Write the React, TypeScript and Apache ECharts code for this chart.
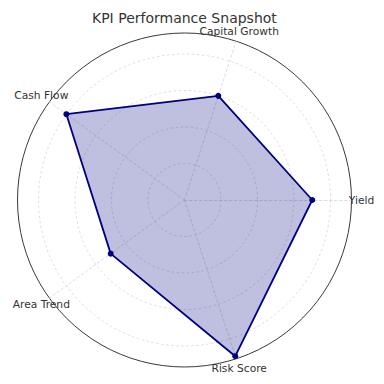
import React, { useEffect, useRef } from "react";
import * as echarts from "echarts";

const indicators = ["Yield", "Capital Growth", "Cash Flow", "Area Trend", "Risk Score"];
const kpiValues = [70, 60, 80, 50, 90];
const axisMax = 91.5; // outer circle value
const ringMax = 80; // last dashed ring value
const ringCount = 4;

const CX = 184.5;
const CY = 200;
const R_OUTER = 167;
const R_RING = (R_OUTER * ringMax) / axisMax;

export default function App() {
  const ref = useRef<HTMLDivElement>(null);
  useEffect(() => {
    if (!ref.current) return;
    const chart = echarts.init(ref.current, null, { renderer: "svg" });
    const gridStyle = { color: "#d4d4d4", type: [2.5, 2.5], width: 0.8 };
    chart.setOption({
      animation: false,
      backgroundColor: "#ffffff",
      title: {
        text: "KPI Performance Snapshot",
        left: 87,
        top: 6,
        textStyle: {
          fontFamily: "DejaVu Sans",
          fontSize: 14,
          fontWeight: "normal",
          color: "#333333",
        },
      },
      radar: [
        {
          center: [CX, CY],
          radius: R_OUTER,
          startAngle: 0,
          shape: "circle",
          splitNumber: 1,
          indicator: indicators.map((n) => ({ name: n, min: 0, max: axisMax })),
          axisName: {
            color: "#333333",
            fontFamily: "DejaVu Sans",
            fontSize: 10.7,
            align: "center",
            verticalAlign: "middle",
          },
          nameGap: 10,
          axisLine: { lineStyle: gridStyle },
          splitLine: { lineStyle: { color: "#222222", width: 0.9 } },
          splitArea: { show: false },
        },
        {
          center: [CX, CY],
          radius: R_RING,
          startAngle: 0,
          shape: "circle",
          splitNumber: ringCount,
          indicator: indicators.map(() => ({ name: "", min: 0, max: ringMax })),
          axisName: { show: false },
          axisLine: { show: false },
          splitLine: { lineStyle: gridStyle },
          splitArea: { show: false },
        },
      ],
      series: [
        {
          type: "radar",
          radarIndex: 0,
          z: 5,
          symbol: "circle",
          symbolSize: 6,
          data: [{ value: kpiValues, name: "KPI" }],
          lineStyle: { color: "#000080", width: 1.8 },
          itemStyle: { color: "#000080" },
          areaStyle: { color: "#000080", opacity: 0.25 },
        },
      ],
    });
    return () => chart.dispose();
  }, []);
  return (
    <div
      ref={ref}
      style={{ position: "fixed", left: 0, top: 0, width: 384, height: 384 }}
    />
  );
}
